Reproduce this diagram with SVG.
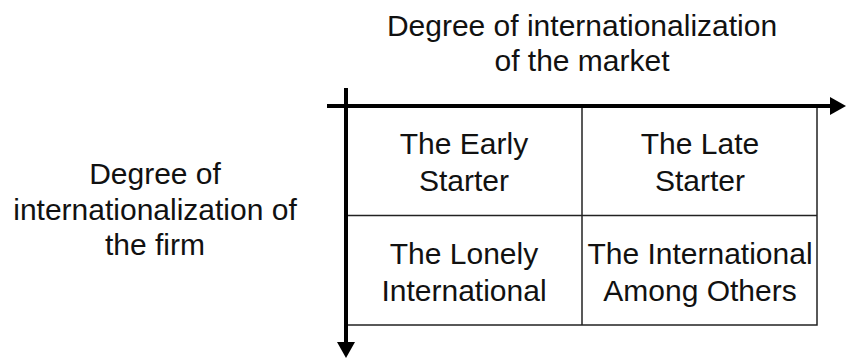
<svg xmlns="http://www.w3.org/2000/svg" width="846" height="360" viewBox="0 0 846 360">
<defs>
<style>
text{font-family:"Liberation Sans",Arial,sans-serif;font-size:30px;fill:#111;text-anchor:middle}
.grid{fill:none;stroke:#222;stroke-width:1.5}
.axis{stroke:#000;stroke-width:4;fill:none}
</style>
</defs>
<rect width="846" height="360" fill="#fff"/>
<g id="title-market">
<text x="582" y="36">Degree of internationalization</text>
<text x="582" y="71">of the market</text>
</g>
<g id="title-firm">
<text x="155" y="184">Degree of</text>
<text x="155" y="220">internationalization of</text>
<text x="155" y="255">the firm</text>
</g>
<g id="grid">
<rect class="grid" x="346" y="106" width="471" height="219"/>
<line class="grid" x1="582" y1="106" x2="582" y2="325"/>
<line class="grid" x1="346" y1="215.5" x2="817" y2="215.5"/>
</g>
<g id="early-starter">
<text x="464" y="154">The Early</text>
<text x="464" y="191">Starter</text>
</g>
<g id="late-starter">
<text x="700" y="154">The Late</text>
<text x="700" y="191">Starter</text>
</g>
<g id="lonely-international">
<text x="464" y="264">The Lonely</text>
<text x="464" y="301">International</text>
</g>
<g id="international-among-others">
<text x="700" y="264">The International</text>
<text x="700" y="301">Among Others</text>
</g>
<g id="connectors">
<line class="axis" x1="327" y1="106" x2="831" y2="106"/>
<polygon points="830,97 846,106 830,115" fill="#000"/>
<line class="axis" x1="346" y1="88" x2="346" y2="343"/>
<polygon points="337,342 355,342 346,358" fill="#000"/>
</g>
</svg>
